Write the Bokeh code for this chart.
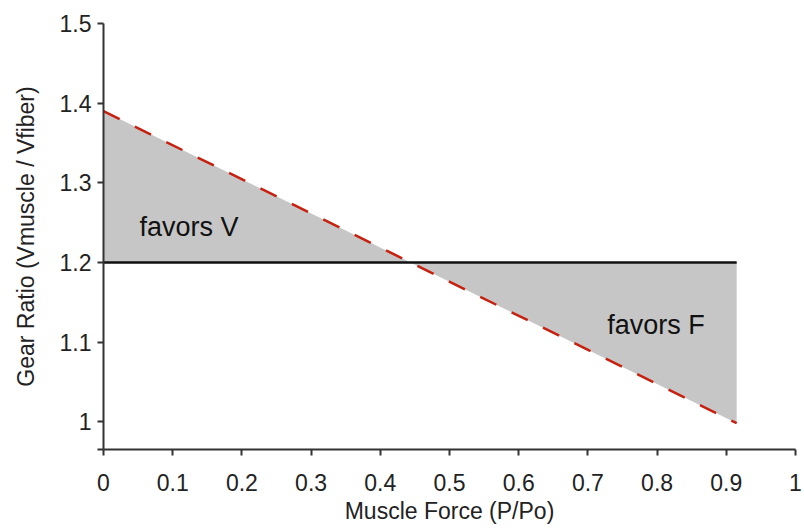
from bokeh.plotting import figure
from bokeh.models import Range1d, FixedTicker, Label
from bokeh.embed import file_html
from bokeh.resources import INLINE

# ---- data ----
force = [0.0, 0.915]            # Muscle Force (P/Po)
gear_ratio = [1.39, 0.998]      # Gear Ratio (Vmuscle / Vfiber), red dashed line
reference_ratio = 1.2           # constant gear ratio (black line)
x_ticks = [0, 0.1, 0.2, 0.3, 0.4, 0.5, 0.6, 0.7, 0.8, 0.9, 1]
x_tick_labels = ["0", "0.1", "0.2", "0.3", "0.4", "0.5", "0.6", "0.7", "0.8", "0.9", "1"]
y_ticks = [1.0, 1.1, 1.2, 1.3, 1.4, 1.5]
y_tick_labels = ["1", "1.1", "1.2", "1.3", "1.4", "1.5"]
y_min = 0.965
annotations = [("favors V", 0.052, 1.244), ("favors F", 0.728, 1.121)]

FONT = "Liberation Sans"

p = figure(width=804, height=529, output_backend="svg", toolbar_location=None,
           x_range=Range1d(0, 1), y_range=Range1d(y_min, 1.5),
           min_border_left=103, min_border_right=9, min_border_top=23, min_border_bottom=80)
p.grid.visible = False
p.outline_line_color = None
p.background_fill_color = "white"

# crossing of the dashed line with the reference line
slope = (gear_ratio[1] - gear_ratio[0]) / (force[1] - force[0])
x_cross = force[0] + (reference_ratio - gear_ratio[0]) / slope
fx = [force[0], x_cross, force[1]]
fy1 = [gear_ratio[0], reference_ratio, gear_ratio[1]]
fy2 = [reference_ratio] * 3
p.varea(x=fx, y1=fy1, y2=fy2, fill_color="#c6c6c6")

p.line(x=[force[0], force[1]], y=[reference_ratio, reference_ratio],
       line_color="#111111", line_width=2.5)
p.line(x=force, y=gear_ratio, line_color="#c8200e", line_width=2.5, line_dash="18 17")

for txt, tx, ty in annotations:
    p.add_layout(Label(x=tx, y=ty, text=txt, text_font=FONT, text_font_size="27px",
                       text_color="#111111", text_baseline="alphabetic", text_align="left"))

# axes
p.xaxis.ticker = FixedTicker(ticks=x_ticks)
p.xaxis.major_label_overrides = {t: l for t, l in zip(x_ticks, x_tick_labels)}
p.yaxis.ticker = FixedTicker(ticks=[y_min] + y_ticks)
ov = {t: l for t, l in zip(y_ticks, y_tick_labels)}
ov[y_min] = ""
p.yaxis.major_label_overrides = ov
p.xaxis.minor_tick_line_color = None
p.yaxis.minor_tick_line_color = None

for ax in (p.xaxis, p.yaxis):
    ax.axis_line_color = "#333333"
    ax.axis_line_width = 2
    ax.major_tick_line_color = "#333333"
    ax.major_tick_line_width = 2
    ax.major_tick_in = 0
    ax.major_tick_out = 6
    ax.major_label_text_font = FONT
    ax.major_label_text_font_size = "23px"
    ax.major_label_text_color = "#222222"
    ax.axis_label_text_font = FONT
    ax.axis_label_text_font_size = "23px"
    ax.axis_label_text_font_style = "normal"
    ax.axis_label_text_color = "#222222"

p.xaxis.axis_label = "Muscle Force (P/Po)"
p.yaxis.axis_label = "Gear Ratio (Vmuscle / Vfiber)"
p.xaxis.major_label_standoff = 18
p.xaxis.axis_label_standoff = 4
p.yaxis.major_label_standoff = 6
p.yaxis.axis_label_standoff = 18

open("out.html", "w").write(file_html(p, INLINE))
